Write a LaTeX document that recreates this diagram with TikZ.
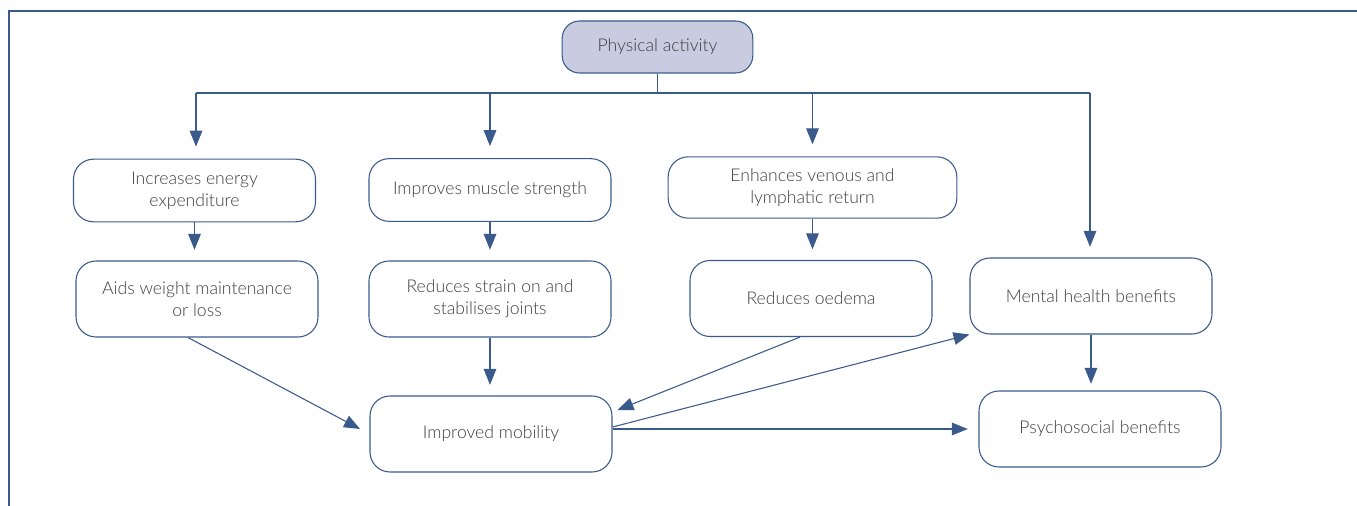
\documentclass[tikz,border=0pt]{standalone}
\usepackage{fontspec}
\setmainfont{Lato Light}
\usetikzlibrary{calc,arrows.meta}
\definecolor{edgeblue}{HTML}{3B5A8C}
\definecolor{palefill}{HTML}{C9CCE1}
\definecolor{textgrey}{HTML}{3F3F3F}

\begin{document}
\begin{tikzpicture}[x=0.75pt, y=-0.75pt,
    box/.style={draw=edgeblue, line width=0.8pt, rounded corners=15pt, fill=white,
      minimum width=181.5pt, minimum height=57pt, align=center, inner sep=0pt,
      text=textgrey, font=\fontsize{13.2}{16.5}\selectfont},
    topbox/.style={box, fill=palefill, minimum width=143pt, minimum height=39pt, rounded corners=13pt},
    link/.style={draw=edgeblue, line width=0.8pt},
    arr/.style={link, -{Triangle[length=12pt, width=9.5pt]}, shorten >=8pt}]
      \useasboundingbox (0,0) rectangle (1357,506);
      %% frame
      \draw[edgeblue, line width=1.1pt] (9,506) -- (9,11) -- (1357,11);

      %% boxes
      \node[topbox] (pa) at (657.5,47) {Physical activity};
      \node[box, minimum height=47pt] (energy) at (194.5,190.5) {Increases energy\\expenditure};
      \node[box, minimum height=47pt] (muscle) at (490,190) {Improves muscle strength};
      \node[box, minimum height=46pt, minimum width=216.5pt] (venous) at (812.5,187.5) {Enhances venous and\\lymphatic return};
      \node[box] (weight) at (197,299) {Aids weight maintenance\\or loss};
      \node[box] (joints) at (490,299) {Reduces strain on and\\stabilises joints};
      \node[box] (oedema) at (811,298.5) {Reduces oedema};
      \node[box] (mental) at (1091,296) {Mental health benefits};
      \node[box] (mobility) at (491,434) {Improved mobility};
      \node[box] (psycho) at (1100,429) {Psychosocial benefits};

      %% bus
      \coordinate (busL) at (196,93);
      \coordinate (busR) at (1090,93);
      \draw[link] (pa.south) -- (pa.south |- busL);
      \draw[link] (busL) -- (busR);
      \draw[arr, shorten >=9pt] (busL) -- (busL |- energy.north);
      \draw[arr, shorten >=9pt] (muscle.north |- busL) -- (muscle.north);
      \draw[arr, shorten >=9pt] (venous.north |- busL) -- (venous.north);
      \draw[arr] (busR) -- (busR |- mental.north);

      %% arrows between boxes
      \draw[arr] (energy.south) -- (energy.south |- weight.north);
      \draw[arr] (muscle.south) -- (joints.north);
      \draw[arr] (venous.south) -- (oedema.north -| venous.south);
      \draw[arr] (joints.south) -- (mobility.north -| joints.south);
      \draw[arr, shorten >=5pt] (mental.south) -- (mental.south |- psycho.north);
      \draw[arr] ($(weight.south)+(-9,0)$) -- (mobility.west);
      \draw[arr, shorten >=4pt] ($(oedema.south)+(-11,0)$) -- ($(mobility.east)+(0,-22)$);
      \draw[arr, shorten >=0pt] ($(mobility.east)+(0,-7)$) -- (mental.south west);
      \draw[arr] ($(mobility.east)+(0,-5)$) -- (psycho.west |- 0,429);
\end{tikzpicture}
\end{document}
